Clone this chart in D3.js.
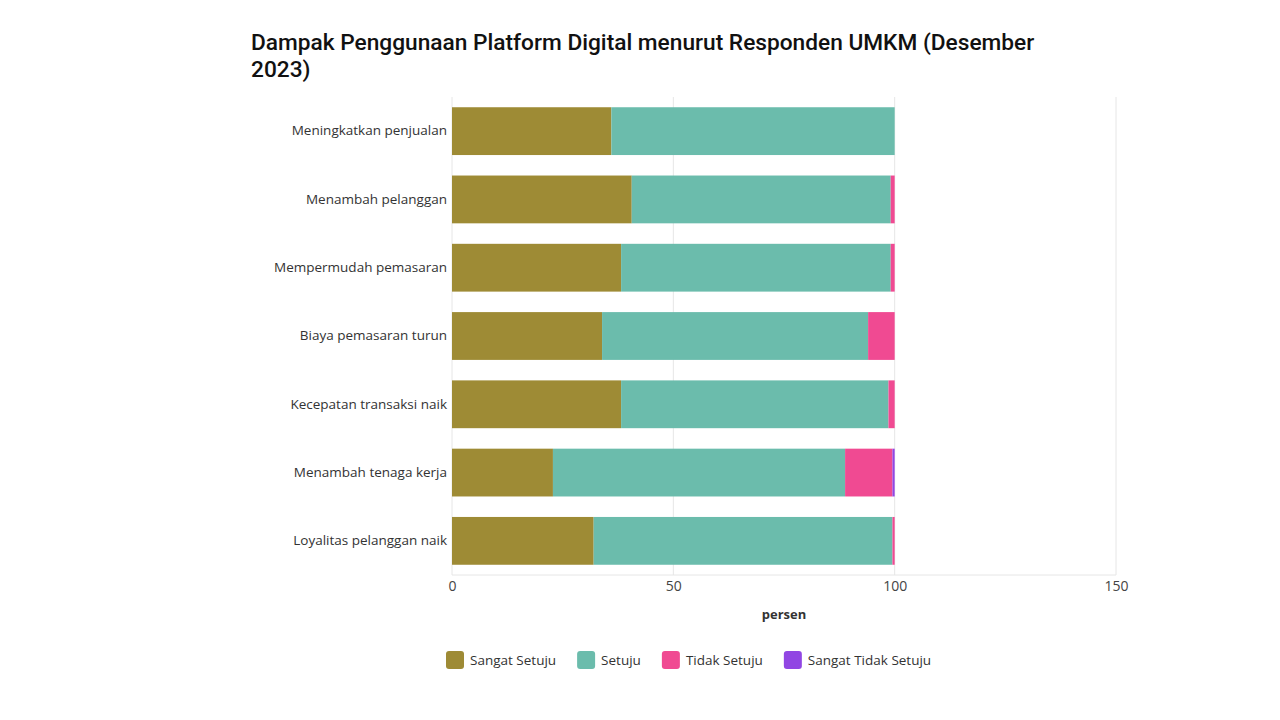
<!DOCTYPE html>
<html><head><meta charset="utf-8">
<script src="https://cdn.jsdelivr.net/npm/d3@7"></script>
<style>body{margin:0;background:#fff;} svg{display:block;}</style>
</head><body>
<script>
const categories = ["Meningkatkan penjualan","Menambah pelanggan","Mempermudah pemasaran","Biaya pemasaran turun","Kecepatan transaksi naik","Menambah tenaga kerja","Loyalitas pelanggan naik"];
const seriesNames = ["Sangat Setuju","Setuju","Tidak Setuju","Sangat Tidak Setuju"];
const sangatSetuju = [36.0, 40.6, 38.2, 33.9, 38.2, 22.8, 32.0];
const setuju = [64.0, 58.5, 60.9, 60.1, 60.4, 66.0, 67.5];
const tidakSetuju = [0.0, 0.9, 0.9, 6.0, 1.4, 10.7, 0.5];
const sangatTidakSetuju = [0.0, 0.0, 0.0, 0.0, 0.0, 0.5, 0.0];
const xTicks = [0, 50, 100, 150];
const colors = ["#9e8b35", "#6bbcac", "#f04a92", "#9146e3"];

const W = 1280, H = 720;
const svg = d3.select("body").append("svg").attr("width", W).attr("height", H);
const m = {left: 452, right: 1116, top: 97, bottom: 575};

const rows = categories.map((c, i) => ({cat: c, "Sangat Setuju": sangatSetuju[i], "Setuju": setuju[i], "Tidak Setuju": tidakSetuju[i], "Sangat Tidak Setuju": sangatTidakSetuju[i]}));
const stack = d3.stack().keys(seriesNames)(rows);

const x = d3.scaleLinear().domain([0, 150]).range([m.left, m.right]);
const y = d3.scaleBand().domain(categories).range([m.top, m.bottom]).paddingInner(0.3).paddingOuter(0.15);
const color = d3.scaleOrdinal().domain(seriesNames).range(colors);

// title
const title = svg.append("text").attr("x", 251).attr("y", 50)
  .style("font-family", "Roboto").style("font-weight", 500).style("font-size", "22.7px").style("fill", "#111");
title.append("tspan").attr("x", 251).attr("dy", 0).text("Dampak Penggunaan Platform Digital menurut Responden UMKM (Desember");
title.append("tspan").attr("x", 251).attr("dy", 27).text("2023)");

// grid
svg.append("g").selectAll("line").data(xTicks).join("line")
  .attr("x1", d => x(d)).attr("x2", d => x(d)).attr("y1", m.top).attr("y2", m.bottom)
  .attr("stroke", "#e6e6e6").attr("stroke-width", 1);
svg.append("line").attr("x1", m.left).attr("x2", m.right).attr("y1", m.bottom).attr("y2", m.bottom)
  .attr("stroke", "#e6e6e6");

// bars
svg.append("g").selectAll("g").data(stack).join("g").attr("fill", d => color(d.key))
  .selectAll("rect").data(d => d).join("rect")
  .attr("x", d => x(d[0])).attr("width", d => Math.max(0, x(d[1]) - x(d[0])))
  .attr("y", d => y(d.data.cat)).attr("height", y.bandwidth());

// y axis
const yAxis = svg.append("g").attr("transform", `translate(${m.left},0)`)
  .call(d3.axisLeft(y).tickSize(0).tickPadding(5));
yAxis.select(".domain").remove();
yAxis.selectAll("text").style("font-family", "'Open Sans'").style("font-size", "13.5px").style("fill", "#333");

// x axis
const xAxis = svg.append("g").attr("transform", `translate(0,${m.bottom})`)
  .call(d3.axisBottom(x).tickValues(xTicks).tickSize(0).tickPadding(6).tickFormat(d3.format("d")));
xAxis.select(".domain").remove();
xAxis.selectAll("text").style("font-family", "'Open Sans'").style("font-size", "14px").style("fill", "#444");

svg.append("text").attr("x", (m.left + m.right) / 2).attr("y", 619).attr("text-anchor", "middle")
  .style("font-family", "'Open Sans'").style("font-weight", 700).style("font-size", "13px").style("fill", "#333").text("persen");

// legend
const lg = svg.append("g");
let lx = 446;
seriesNames.forEach((s, i) => {
  lg.append("rect").attr("x", lx).attr("y", 651).attr("width", 18).attr("height", 18).attr("rx", 3)
    .attr("fill", colors[i]);
  const t = lg.append("text").attr("x", lx + 24).attr("y", 665)
    .style("font-family", "'Open Sans'").style("font-size", "13.5px").style("fill", "#333").text(s);
  lx += 24 + t.node().getComputedTextLength() + 21;
});
</script>
</body></html>
